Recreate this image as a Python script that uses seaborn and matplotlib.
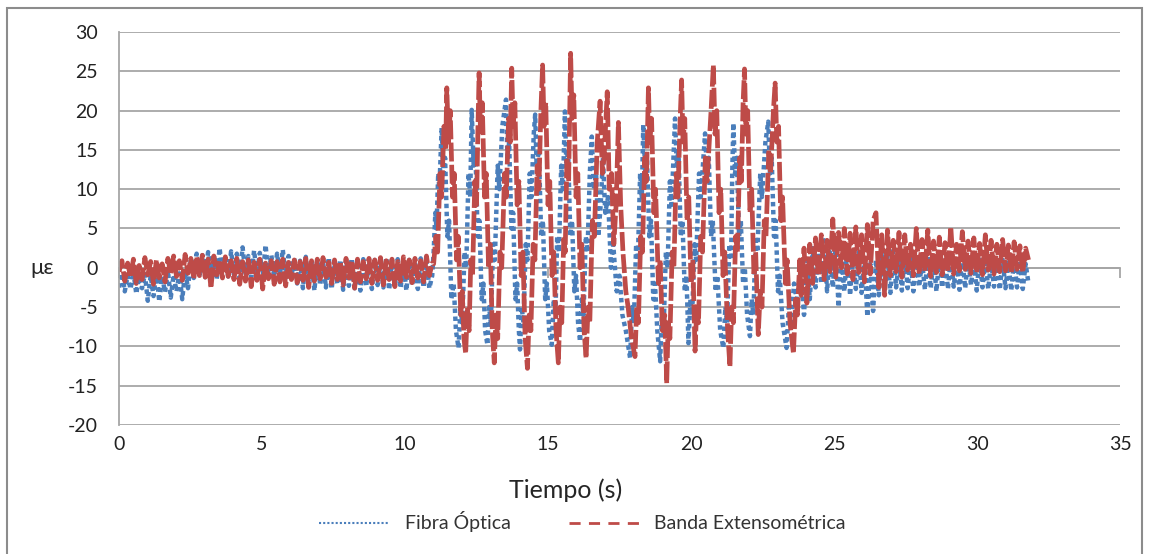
import numpy as np
import pandas as pd
import seaborn as sns
import matplotlib.pyplot as plt
from matplotlib.lines import Line2D
from matplotlib.patches import Rectangle

# --- values (strain in microstrain) ---
# quiet part before the load, 0 .. 10.95 s
blue_base = [-2.5, -0.7, -3.0, -1.0, -2.7, -0.5, -3.3, -1.2, -2.6, -0.8,
             -4.2, -1.0, -3.6, -0.6, -4.3, -1.1, -3.1, -0.4, -3.8, -0.9,
             -3.0, -0.7, -4.0, -0.5, -2.6, 1.2, -1.3, 1.8, -0.9, 1.6,
             -1.2, 2.0, -0.8, 1.7, -1.5, 2.5, -0.6, 1.4, -1.1, 2.1,
             -0.9, 1.8, -1.3, 2.6, -0.7, 1.5, -1.2, 2.2, -0.8, 1.9,
             -1.4, 2.9, -0.9, 1.6, -1.1, 1.8, -0.7, 2.3, -1.3, 1.5,
             -1.0, 1.2, -2.0, 0.9, -2.6, 1.4, -1.8, 0.7, -2.9, 1.1,
             -2.2, 0.8, -2.5, 1.3, -2.7, 0.6, -2.1, 1.0, -2.8, 0.9,
             -2.3, 1.2, -2.6, 0.7, -2.9, 1.1, -2.4, 0.8, -2.7, 1.0,
             -2.2, 0.6, -2.5, 1.3, -2.8, 0.9, -2.4, 1.1, -2.6, 0.7,
             -2.9, 1.0, -2.3, 0.8, -2.7, 1.2, -2.5, 0.9, -2.6, -1.0]
red_base = [-0.5, 0.9, -1.7, 0.6, -1.2, 1.1, -2.0, 0.3, -1.5, 1.3,
            -0.9, 0.8, -2.1, 1.0, -1.3, 0.5, -1.8, 1.2, -0.8, 1.5,
            -1.1, 0.9, -1.6, 1.7, -0.7, 1.2, -1.4, 1.4, -1.0, 1.6,
            -1.2, 1.1, -2.6, 1.5, -0.9, 1.0, -1.3, 1.4, -1.1, 0.9,
            -1.5, 1.2, -2.1, 0.8, -1.7, 1.0, -2.4, 0.7, -1.6, 1.1,
            -2.7, 0.6, -1.4, 0.9, -2.1, 0.8, -1.8, 1.1, -2.3, 0.7,
            -1.5, 1.0, -1.9, 0.8, -1.6, 1.2, -2.5, 0.9, -1.7, 1.1,
            -1.4, 1.3, -1.2, 0.7, -2.0, 1.0, -1.5, 0.8, -2.2, 1.2,
            -1.3, 0.9, -2.6, 1.1, -1.8, 0.8, -1.4, 1.2, -2.0, 1.0,
            -1.6, 1.3, -2.2, 0.9, -1.5, 1.1, -2.4, 0.8, -1.7, 1.4,
            -1.2, 1.0, -1.9, 1.2, -1.3, 0.9, -1.8, 1.5, -1.0, 0.6]

# oscillating part, 11 .. 23.8 s (time, value)
blue_osc_t = [10.95, 11.0, 11.06, 11.1, 11.16, 11.2, 11.28, 11.34, 11.4, 11.48, 11.54, 11.62, 11.7, 11.78, 11.87,
              11.94, 12.0, 12.08, 12.14, 12.22, 12.28, 12.33, 12.4, 12.46, 12.54, 12.6, 12.68, 12.74, 12.8, 12.88,
              12.94, 13.0, 13.08, 13.14, 13.24, 13.3, 13.4, 13.53, 13.58, 13.64, 13.72, 13.78, 13.86, 13.92, 13.98, 14.02,
              14.08, 14.14, 14.22, 14.28, 14.36, 14.42, 14.5, 14.55, 14.6, 14.68, 14.76, 14.82, 14.9, 14.96, 15.04, 15.13,
              15.2, 15.26, 15.32, 15.38, 15.46, 15.52, 15.59, 15.64, 15.7, 15.78, 15.84, 15.92, 15.98, 16.05, 16.12,
              16.18, 16.24, 16.32, 16.38, 16.46, 16.53, 16.6, 16.68, 16.76, 16.84, 16.92, 17.0, 17.1, 17.2, 17.28,
              17.4, 17.5, 17.6, 17.72, 17.87,
              17.94, 18.0, 18.08, 18.14, 18.22, 18.28, 18.33, 18.4, 18.46, 18.54, 18.6, 18.68, 18.74, 18.82, 18.92,
              18.98, 19.04, 19.12, 19.18, 19.26, 19.32, 19.44, 19.5, 19.56, 19.64, 19.7, 19.78, 19.84, 19.91,
              19.98, 20.04, 20.12, 20.18, 20.28, 20.34, 20.49, 20.56, 20.62, 20.7, 20.76, 20.86, 20.92, 21.02, 21.13,
              21.2, 21.26, 21.34, 21.4, 21.44, 21.48, 21.54, 21.6, 21.68, 21.74, 21.82, 21.88, 21.96, 22.06,
              22.12, 22.18, 22.26, 22.32, 22.42, 22.48, 22.6, 22.7, 22.76, 22.82, 22.9, 22.96, 23.04, 23.1, 23.2,
              23.34, 23.42, 23.5, 23.6, 23.7, 23.8]
blue_osc_v = [-1, 2, 7, 5, 12, 10, 17.8, 12, 14, 4, 6, -4, -2, -8, -10.2,
              -5, -7, 2, 0, 12, 9, 20.1, 13, 15, 4, 6, -4, -2, -8, -9.8,
              -5, -7, 3, 1, 13, 10, 18, 21.4, 14, 16, 5, 7, -4, -2, -8, -10.4,
              -5, -7, 3, 1, 12, 9, 17, 19.5, 13, 15, 4, 6, -4, -2, -8, -9.8,
              -4, -6, 4, 2, 13, 10, 19.9, 13, 15, 4, 6, -3, -1, -7, -9.4,
              -4, -6, 4, 2, 12, 16.7, 10, 12, 4, 8, 14, 7, 9, 0, 3,
              -3, -1, -6, -8, -11.5,
              -5, -7, 3, 1, 12, 9, 18.2, 12, 14, 4, 6, -4, -2, -8, -11.9,
              -6, -8, 2, 0, 11, 8, 19.0, 13, 15, 4, 6, -3, -1, -9.6,
              -4, -6, 3, 1, 12, 9, 17.1, 12, 14, 4, 6, -3, -1, -8, -10.2,
              -5, -7, 3, 1, 12, 18.4, 12, 14, 4, 6, -2, 0, -6, -8.7,
              -4, -6, 4, 2, 12, 9, 16, 18.6, 12, 14, 4, 6, -3, -1, -7,
              -10.2, -5, -7, -2, -4, -1]
red_osc_t = [11.0, 11.08, 11.14, 11.22, 11.28, 11.36, 11.42, 11.46, 11.52, 11.58, 11.66, 11.72, 11.8, 11.86, 11.95,
             12.0, 12.06, 12.12,
             12.18, 12.24, 12.3, 12.36, 12.44, 12.5, 12.55, 12.59, 12.64, 12.7, 12.78, 12.84, 12.92, 12.98, 13.05, 13.12,
             13.18, 13.24, 13.32, 13.38, 13.48, 13.54, 13.62, 13.68, 13.73, 13.78, 13.84, 13.92, 13.98, 14.06, 14.12,
             14.2, 14.28,
             14.34, 14.4, 14.48, 14.54, 14.62, 14.68, 14.75, 14.81, 14.86, 14.92, 15.0, 15.06, 15.14, 15.2, 15.28, 15.36,
             15.42, 15.48, 15.55, 15.6, 15.66, 15.72, 15.79, 15.84, 15.9, 15.98, 16.04, 16.12, 16.18, 16.26, 16.33,
             16.4, 16.46, 16.55, 16.62, 16.72, 16.82, 16.9, 16.96, 17.07, 17.14, 17.22, 17.3, 17.38, 17.46, 17.54,
             17.62, 17.72, 17.8, 17.92, 18.04,
             18.1, 18.16, 18.24, 18.3, 18.38, 18.44, 18.51, 18.56, 18.62, 18.7, 18.76, 18.86, 18.92, 19.0, 19.08, 19.15,
             19.2, 19.26, 19.34, 19.4, 19.48, 19.54, 19.62, 19.67, 19.72, 19.78, 19.86, 19.92, 20.0, 20.06, 20.14,
             20.2, 20.26, 20.34, 20.4, 20.5, 20.56, 20.7, 20.78, 20.84, 20.9, 20.98, 21.04, 21.12, 21.18, 21.28, 21.36,
             21.42, 21.48, 21.56, 21.62, 21.7, 21.76, 21.82, 21.87, 21.92, 21.98, 22.06, 22.12, 22.2, 22.26, 22.35,
             22.42, 22.48, 22.56, 22.62, 22.72, 22.78, 22.88, 22.94, 23.0, 23.06, 23.14, 23.2, 23.3, 23.36, 23.46,
             23.58, 23.66, 23.72, 23.8]
red_osc_v = [0.5, 4, 2, 12, 9, 18, 15, 22.9, 16, 20, 9, 12, 1, 4, -6, -3, -9, -10.9,
             -5, -8, 1, -1, 11, 8, 18, 24.8, 17, 21, 9, 12, 0, 3, -8, -12.1,
             -6, -9, 2, 0, 12, 9, 19, 16, 25.4, 18, 21, 8, 11, -1, 2, -9, -12.8,
             -6, -8, 3, 1, 13, 10, 20, 25.8, 18, 21, 8, 11, -1, 2, -8, -12.1,
             -5, -7, 4, 2, 14, 11, 27.3, 19, 22, 9, 12, 0, 3, -8, -11.5,
             -5, -7, 6, 4, 16, 21.2, 12, 14, 22.4, 10, 12, 3, 8, 18.5, 8,
             2, -3, -5, -9, -11.3,
             -5, -7, 4, 2, 14, 11, 22.9, 16, 19, 7, 10, -2, 1, -8, -6, -14.7,
             -7, -9, 2, 0, 12, 9, 19, 23.9, 16, 19, 6, 9, -2, 1, -10.6,
             -5, -7, 4, 2, 14, 11, 20, 25.8, 17, 20, 7, 10, -1, 2, -8, -12.6,
             -5, -7, 4, 2, 14, 11, 21, 25.3, 17, 20, 7, 10, -1, 2, -8.5,
             -3, -5, 6, 4, 15, 12, 20, 23.5, 16, 18, 6, 9, -2, 1, -7,
             -10.9, -4, -6, 1]

# part after the load, 23.85 .. 31.8 s
blue_post = [-1.0, -6.0, 1.5, -4.0, 2.5, -2.5, 3.0, -2.0, 3.5, -3.0,
             2.0, -2.5, 2.8, -5.0, 1.5, -3.0, 2.4, -3.5, 1.8, -2.7,
             2.0, -3.2, 1.2, -6.2, 0.5, -5.5, 1.0, -3.5, 2.0, -2.8,
             1.5, -3.2, 2.2, -2.5, 1.0, -2.9, 1.8, -2.6, 1.2, -3.0,
             1.6, -2.4, 0.9, -2.8, 1.5, -2.6, 1.1, -3.0, 1.4, -2.5,
             1.0, -2.7, 1.3, -2.4, 0.8, -2.8, 1.2, -2.6, 1.5, -2.2,
             0.9, -2.9, 1.3, -2.5, 1.1, -2.7, 0.8, -2.4, 1.2, -2.8,
             1.0, -2.6, 0.7, -2.9, 1.1, -2.5, 0.9, -2.7, 0.5, -2.0]
red_post = [-3.5, 2.5, -4.5, 3.0, -2.0, 3.8, -1.0, 4.2, -1.5, 3.5,
            -0.5, 6.2, -1.2, 4.5, 0.0, 5.0, -0.8, 4.4, -1.5, 5.2,
            -0.6, 4.2, -1.8, 5.5, -0.8, 6.0, 7.0, -2.5, 4.2, -3.5,
            4.8, -1.0, 3.5, -0.5, 4.5, -1.2, 4.2, -0.3, 3.0, -1.0,
            5.0, -0.8, 3.6, -0.4, 4.8, -1.1, 3.4, -0.6, 3.9, -0.9,
            3.2, -0.5, 5.2, -0.8, 3.0, -0.4, 4.6, -0.2, 3.4, -0.7,
            3.8, -0.6, 3.1, -0.9, 4.2, -0.3, 3.5, -0.8, 3.0, -0.5,
            3.6, -0.4, 2.9, -0.7, 3.3, -0.2, 2.8, -0.6, 2.5, 1.0]

series_names = ['Fibra Óptica', 'Banda Extensométrica']
x_ticks = [0, 5, 10, 15, 20, 25, 30, 35]
y_ticks = [-20, -15, -10, -5, 0, 5, 10, 15, 20, 25, 30]


def build(base, osc_t, osc_v, post):
    t = list(np.linspace(0, 10.95, len(base))) + osc_t + list(np.linspace(23.85, 31.8, len(post)))
    return pd.DataFrame({'t': t, 'v': base + osc_v + post})


blue = build(blue_base, blue_osc_t, blue_osc_v, blue_post)
red = build(red_base, red_osc_t, red_osc_v, red_post)

sns.set_style("white")
plt.rcParams['font.family'] = ['Lato', 'DejaVu Sans']
plt.rcParams['axes.unicode_minus'] = False

blue_c = '#4a7ebb'
red_c = '#be4b48'
grid_c = '#a6a6a6'

fig = plt.figure(figsize=(11.49, 5.54), dpi=100)
ax = fig.add_axes([0.1036, 0.2329, 0.8712, 0.7093])

# the sampled traces are so dense that the dash gaps nearly close up
sns.lineplot(data=blue, x='t', y='v', ax=ax, estimator=None, sort=False,
             color=blue_c, lw=3.2, dashes=False)
ax.lines[-1].set_linestyle((0, (1, 0.8)))
sns.lineplot(data=red, x='t', y='v', ax=ax, estimator=None, sort=False,
             color=red_c, lw=3.4, dashes=False)
ax.lines[-1].set_linestyle((0, (4, 0.7)))

ax.set_xlim(0, 35)
ax.set_ylim(-20, 30)
ax.set_yticks(y_ticks)
ax.set_xticks(x_ticks)
ax.yaxis.grid(True, color=grid_c, lw=1.3)
ax.set_axisbelow(True)
for s in ['top', 'right', 'bottom']:
    ax.spines[s].set_visible(False)
ax.spines['left'].set_color(grid_c)
ax.spines['left'].set_linewidth(1.3)
ax.tick_params(axis='y', length=9, width=1.3, color=grid_c, labelsize=14, pad=6, labelcolor='#222222')
ax.tick_params(axis='x', length=0, labelsize=14, pad=8, labelcolor='#222222')
ax.set_xlabel('')
ax.set_ylabel('')

# horizontal axis crossing at zero, with its tick marks
zero_ax = ax.secondary_xaxis(0.4)
zero_ax.set_xticks(x_ticks)
zero_ax.set_xticklabels([])
zero_ax.spines['bottom'].set_color(grid_c)
zero_ax.spines['bottom'].set_linewidth(1.3)
zero_ax.tick_params(axis='x', length=7, width=1.3, color=grid_c)

fig.text(0.037, 0.516, 'με', fontsize=16, ha='center', va='center')
fig.text(0.492, 0.1155, 'Tiempo (s)', fontsize=18, ha='center', va='center')

handles = [Line2D([], [], color=blue_c, lw=1.5, linestyle=(0, (1, 1))),
           Line2D([], [], color=red_c, lw=2.0, linestyle=(0, (4, 3)))]
fig.legend(handles, series_names, loc='center', bbox_to_anchor=(0.507, 0.058), ncol=2,
           frameon=False, fontsize=14, handlelength=3.6, columnspacing=3.0, labelcolor='#333333')

fig.patches.append(Rectangle((0.006, -0.01), 0.988, 0.996, transform=fig.transFigure,
                             fill=False, ec='#8c8c8c', lw=1.5))

fig.savefig('out.png', dpi=100)
